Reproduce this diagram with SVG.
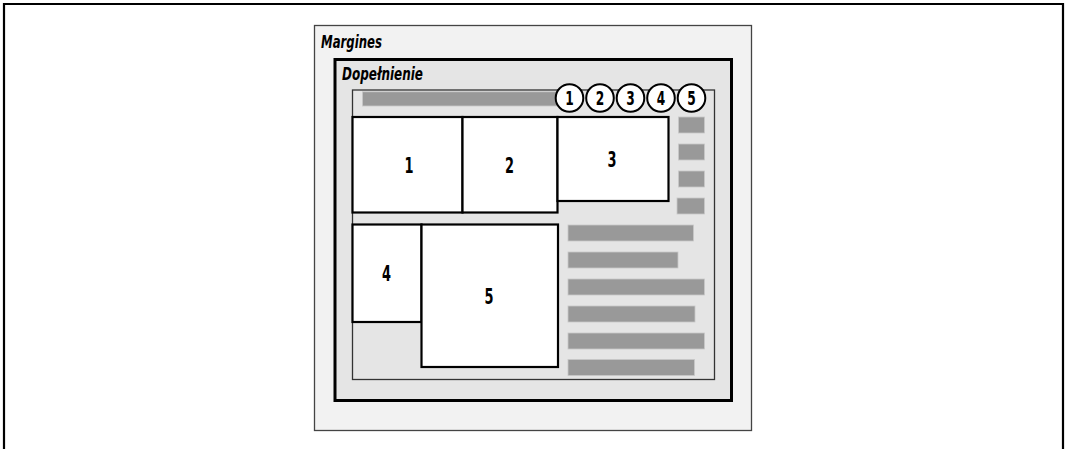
<svg xmlns="http://www.w3.org/2000/svg" width="1065" height="449" viewBox="0 0 1065 449">
<style>
.lbl{font-family:"Liberation Sans Narrow","DejaVu Sans Condensed","Liberation Sans",sans-serif;font-style:italic;font-weight:bold;font-size:17px;fill:#000}
.num{font-family:"Liberation Sans Narrow","DejaVu Sans Condensed","Liberation Sans",sans-serif;font-weight:bold;font-size:21px;fill:#000;text-anchor:middle}
.cnum{font-family:"Liberation Sans Narrow","DejaVu Sans Condensed","Liberation Sans",sans-serif;font-weight:bold;font-size:19px;fill:#000;text-anchor:middle}
.box{fill:#fff;stroke:#000;stroke-width:2.2}
.bar{fill:#999;stroke:#c8c8c8;stroke-width:0.8}
.circ{fill:#fff;stroke:#000;stroke-width:2}
</style>
<rect width="1065" height="449" fill="#fff"/>
<path d="M4,449 V4 H1063 V449" fill="none" stroke="#000" stroke-width="2.2"/>
<g id="margines">
<rect x="314.5" y="25.5" width="437" height="405" fill="#f2f2f2" stroke="#444" stroke-width="1.3"/>
<text class="lbl" x="321" y="48" textLength="61" lengthAdjust="spacingAndGlyphs">Margines</text>
</g>
<g id="dopelnienie">
<rect x="335" y="59.5" width="396.5" height="341" fill="#e5e5e5" stroke="#000" stroke-width="3"/>
<text class="lbl" x="342" y="80" textLength="81" lengthAdjust="spacingAndGlyphs">Dopełnienie</text>
</g>
<g id="content">
<rect x="352.5" y="90" width="362" height="289.5" fill="#e5e5e5" stroke="#333" stroke-width="1.3"/>
<rect class="bar" x="362.5" y="91.8" width="200" height="14.2"/>
</g>
<g id="squares">
<rect class="bar" x="678.5" y="117" width="26" height="16"/>
<rect class="bar" x="678.5" y="144" width="26" height="16"/>
<rect class="bar" x="678.5" y="171" width="26" height="16"/>
<rect class="bar" x="677" y="198" width="27.5" height="16"/>
</g>
<g id="bars">
<rect class="bar" x="568" y="225" width="125.5" height="16"/>
<rect class="bar" x="568" y="252" width="110" height="16"/>
<rect class="bar" x="568" y="279" width="136.5" height="16"/>
<rect class="bar" x="568" y="306" width="127" height="16"/>
<rect class="bar" x="568" y="333" width="136.5" height="16"/>
<rect class="bar" x="568" y="359.5" width="126.5" height="16"/>
</g>
<g id="box1">
<rect class="box" x="352.5" y="117" width="110" height="95.5"/>
<text class="num" x="409" y="173" textLength="9" lengthAdjust="spacingAndGlyphs">1</text>
</g>
<g id="box2">
<rect class="box" x="462.5" y="117" width="95" height="95.5"/>
<text class="num" x="509.5" y="173" textLength="9" lengthAdjust="spacingAndGlyphs">2</text>
</g>
<g id="box3">
<rect class="box" x="557.5" y="117" width="111" height="84"/>
<text class="num" x="612" y="166.5" textLength="9" lengthAdjust="spacingAndGlyphs">3</text>
</g>
<g id="box4">
<rect class="box" x="352.5" y="224.5" width="69" height="97.5"/>
<text class="num" x="386.5" y="281" textLength="9" lengthAdjust="spacingAndGlyphs">4</text>
</g>
<g id="box5">
<rect class="box" x="421.5" y="224.5" width="136.5" height="142.5"/>
<text class="num" x="489" y="304" textLength="9" lengthAdjust="spacingAndGlyphs">5</text>
</g>
<g id="circles">
<circle class="circ" cx="569.5" cy="98" r="13.8"/>
<text class="cnum" x="569.5" y="105" textLength="8.5" lengthAdjust="spacingAndGlyphs">1</text>
<circle class="circ" cx="600" cy="98" r="13.8"/>
<text class="cnum" x="600" y="105" textLength="8.5" lengthAdjust="spacingAndGlyphs">2</text>
<circle class="circ" cx="630.5" cy="98" r="13.8"/>
<text class="cnum" x="630.5" y="105" textLength="8.5" lengthAdjust="spacingAndGlyphs">3</text>
<circle class="circ" cx="661" cy="98" r="13.8"/>
<text class="cnum" x="661" y="105" textLength="8.5" lengthAdjust="spacingAndGlyphs">4</text>
<circle class="circ" cx="691.5" cy="98" r="13.8"/>
<text class="cnum" x="691.5" y="105" textLength="8.5" lengthAdjust="spacingAndGlyphs">5</text>
</g>
</svg>
